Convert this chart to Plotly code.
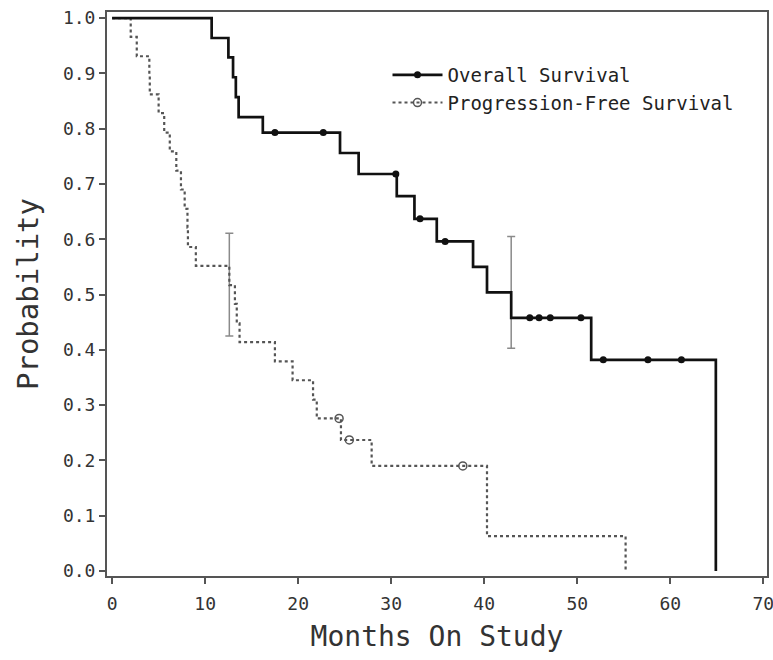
import plotly.graph_objects as go

# Overall survival (Kaplan-Meier steps)
os_time = [0, 10.7, 12.5, 13.0, 13.3, 13.6, 16.2, 24.5, 26.5, 30.6, 32.5, 34.9, 38.8, 40.3, 42.9, 51.5, 64.9]
os_surv = [1.0, 0.964, 0.929, 0.893, 0.857, 0.821, 0.793, 0.756, 0.718, 0.678, 0.637, 0.596, 0.550, 0.504, 0.458, 0.382, 0.0]
os_cens_time = [17.5, 22.7, 30.5, 33.1, 35.8, 44.9, 45.9, 47.1, 50.4, 52.8, 57.6, 61.2]
os_cens_surv = [0.793, 0.793, 0.718, 0.637, 0.596, 0.458, 0.458, 0.458, 0.458, 0.382, 0.382, 0.382]
os_err_time = [42.9]
os_err_center = [0.504]
os_err_half = [0.101]

# Progression-free survival
pfs_time = [0, 2.0, 2.65, 4.0, 4.05, 5.0, 5.6, 6.2, 6.9, 7.4, 7.8, 8.1, 8.15, 9.0, 12.6, 13.2, 13.4, 13.7,
            17.5, 19.4, 21.6, 22.0, 24.6, 27.9, 40.3, 55.2]
pfs_surv = [1.0, 0.966, 0.931, 0.897, 0.862, 0.828, 0.793, 0.759, 0.724, 0.690, 0.655, 0.621, 0.586, 0.552,
            0.517, 0.483, 0.448, 0.414, 0.379, 0.345, 0.310, 0.276, 0.237, 0.190, 0.063, 0.0]
pfs_cens_time = [24.4, 25.5, 37.7]
pfs_cens_surv = [0.276, 0.237, 0.190]
pfs_err_time = [12.6]
pfs_err_center = [0.518]
pfs_err_half = [0.093]

x_ticks = [0, 10, 20, 30, 40, 50, 60, 70]
y_ticks = [0.0, 0.1, 0.2, 0.3, 0.4, 0.5, 0.6, 0.7, 0.8, 0.9, 1.0]

FONT = "DejaVu Sans Mono"
OS_COLOR = "#111111"
PFS_COLOR = "#555555"
ERR_COLOR = "#8a8a8a"

fig = go.Figure()

# error bars
fig.add_trace(go.Scatter(x=pfs_err_time, y=pfs_err_center, mode="markers",
                         marker=dict(size=0.1, color=ERR_COLOR), showlegend=False,
                         error_y=dict(type="data", array=pfs_err_half, color=ERR_COLOR, thickness=1.5, width=4)))
fig.add_trace(go.Scatter(x=os_err_time, y=os_err_center, mode="markers",
                         marker=dict(size=0.1, color=ERR_COLOR), showlegend=False,
                         error_y=dict(type="data", array=os_err_half, color=ERR_COLOR, thickness=1.5, width=4)))

# PFS step line
fig.add_trace(go.Scatter(x=pfs_time, y=pfs_surv, mode="lines", line_shape="hv",
                         line=dict(color=PFS_COLOR, width=2.2, dash="dot"), showlegend=False))
fig.add_trace(go.Scatter(x=pfs_cens_time, y=pfs_cens_surv, mode="markers",
                         marker=dict(symbol="circle-open", size=8, color=PFS_COLOR, line=dict(width=1.5)),
                         showlegend=False))

# OS step line
fig.add_trace(go.Scatter(x=os_time, y=os_surv, mode="lines", line_shape="hv",
                         line=dict(color=OS_COLOR, width=2.7), showlegend=False))
fig.add_trace(go.Scatter(x=os_cens_time, y=os_cens_surv, mode="markers",
                         marker=dict(symbol="circle", size=7, color=OS_COLOR), showlegend=False))

# legend entries
fig.add_trace(go.Scatter(x=[None], y=[None], mode="lines+markers", name="Overall Survival",
                         line=dict(color=OS_COLOR, width=2.7),
                         marker=dict(symbol="circle", size=7, color=OS_COLOR)))
fig.add_trace(go.Scatter(x=[None], y=[None], mode="lines+markers", name="Progression-Free Survival",
                         line=dict(color=PFS_COLOR, width=2, dash="dot"),
                         marker=dict(symbol="circle-open", size=8, color=PFS_COLOR, line=dict(width=1.5))))

fig.update_layout(
    width=773, height=660,
    margin=dict(l=107, r=6, t=12, b=84),
    paper_bgcolor="white", plot_bgcolor="white",
    font=dict(family=FONT, color="#333333"),
    legend=dict(x=0.425, y=0.922, xanchor="left", yanchor="top",
                bgcolor="rgba(0,0,0,0)", font=dict(family=FONT, size=19, color="#222222"),
                itemwidth=50, tracegroupgap=0),
    xaxis=dict(range=[-0.55, 70.4], tickvals=x_ticks, ticktext=[str(v) for v in x_ticks],
               ticks="outside", ticklen=6, tickcolor="#555", tickwidth=1.5,
               showline=True, linecolor="#555", linewidth=2, mirror=True,
               showgrid=False, zeroline=False, automargin=False, ticklabelstandoff=4,
               ticklabeloverflow="allow",
               tickfont=dict(family=FONT, size=18, color="#333"),
               title=dict(text="Months On Study", font=dict(family=FONT, size=28, color="#333"), standoff=14)),
    yaxis=dict(range=[-0.009, 1.011], tickvals=y_ticks, ticktext=[f"{v:.1f}" for v in y_ticks],
               ticks="outside", ticklen=6, tickcolor="#555", tickwidth=1.5,
               showline=True, linecolor="#555", linewidth=2, mirror=True,
               showgrid=False, zeroline=False, automargin=False, ticklabeloverflow="allow",
               tickfont=dict(family=FONT, size=18, color="#333"),
               title=dict(text="Probability", font=dict(family=FONT, size=29, color="#333"), standoff=16)),
)

fig.write_html("out.html", config={"displayModeBar": False},
               post_script="document.body.style.margin='0';document.body.style.overflow='hidden';")
